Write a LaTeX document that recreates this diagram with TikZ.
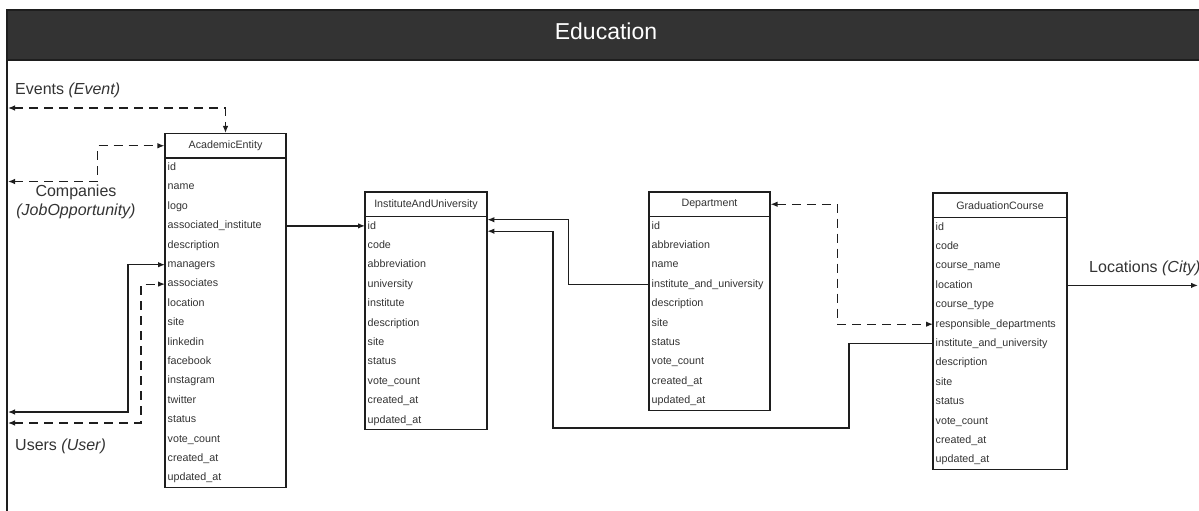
\documentclass[tikz,border=0pt]{standalone}
\usepackage{fontspec}
\setmainfont{Liberation Sans}
\usetikzlibrary{arrows.meta,calc}
\definecolor{ink}{HTML}{333333}
\definecolor{headfill}{HTML}{333333}
\definecolor{edge}{HTML}{1E1E1E}

\tikzset{
  tip/.tip={Latex[length=7pt,width=5.5pt]},
  tabline/.style={draw=edge, line width=1.1pt},
  tabtitle/.style={draw=edge, line width=1.1pt, fill=white, minimum height=24.5pt,
    inner sep=0pt, text=ink, font=\fontsize{10.7}{12}\selectfont},
  field/.style={anchor=west, inner xsep=2.5pt, inner ysep=0pt, minimum height=19.4pt,
    text height=8pt, text depth=2.4pt,
    align=left, text=ink, font=\fontsize{10.7}{12}\selectfont},
  fk/.style={draw=edge, line width=1.2pt},
  fkd/.style={fk, dash pattern=on 9pt off 6pt},
  both/.style={tip-tip},
  ref/.style={-tip},
  sidelabel/.style={inner sep=0pt, text=ink, font=\fontsize{16}{19}\selectfont},
}

% \erdtable{prefix}{left x}{top y}{width}{title}{number of fields}{fields}
\newcommand\erdtable[7]{%
  \pgfmathsetmacro\erdtw{#4-5}%
  \node[tabtitle, minimum width=#4pt] (#1-title) at (#2+#4/2, #3+12.25) {#5};
  \foreach \f [count=\i from 0] in {#7}
    \node[field, text width=\erdtw pt] (#1-\f) at (#2, #3+24.5+19.4*\i+9.7) {\f};
  \draw[tabline] (#2, #3+24.5) rectangle (#2+#4, #3+24.5+19.4*#6);
}

\begin{document}
\catcode`\_=12
\begin{tikzpicture}[x=1pt,y=-1pt]
\useasboundingbox (0,0) rectangle (1199,511);

% frame with its header band
\fill[headfill] (7,10) rectangle (1215,60);
\draw[edge, line width=1.2pt] (1215,10) -- (7,10) -- (7,520);
\draw[edge, line width=1.2pt] (7,60) -- (1215,60);
\node[anchor=base, text=white, inner sep=0pt, font=\fontsize{23}{27}\selectfont]
  (heading) at (606,40) {Education};

% tables
\erdtable{ae}{165}{133.5}{121}{AcademicEntity}{17}{id,name,logo,associated_institute,description,managers,associates,location,site,linkedin,facebook,instagram,twitter,status,vote_count,created_at,updated_at}
\erdtable{iau}{365}{192}{122}{InstituteAndUniversity}{11}{id,code,abbreviation,university,institute,description,site,status,vote_count,created_at,updated_at}
\erdtable{dept}{649}{192}{121}{Department}{10}{id,abbreviation,name,institute_and_university,description,site,status,vote_count,created_at,updated_at}
\erdtable{gc}{933}{193}{134}{GraduationCourse}{13}{id,code,course_name,location,course_type,responsible_departments,institute_and_university,description,site,status,vote_count,created_at,updated_at}

% outside references
\node[sidelabel, anchor=base west] (events-label) at (15,94) {Events \textit{(Event)}};
\node[sidelabel, align=center] (companies-label) at (76,202) {Companies\\\textit{(JobOpportunity)}};
\node[sidelabel, anchor=base west] (users-label) at (15,450) {Users \textit{(User)}};
\node[sidelabel, anchor=base west] (locations-label) at (1089,272) {Locations \textit{(City)}};

\coordinate (events-end) at (8,108);
\coordinate (companies-end) at (8,181.5);
\coordinate (users-a) at (8,412);
\coordinate (users-b) at (8,423);
\coordinate (loc-end) at (1198,0);
\coordinate (gc-bend) at (849,428);
\coordinate (iau-bend) at (553,428);

% connectors
\draw[fkd, both] (events-end) -| (ae-title.north);
\draw[fkd, both] (companies-end) -| ($(ae-title.west)+(-67,0)$) -- (ae-title.west);
\draw[fk, both] (users-a) -| ($(ae-managers.west)+(-37,0)$) -- (ae-managers.west);
\draw[fkd, both] (users-b) -| ($(ae-associates.west)+(-24,0)$) -- (ae-associates.west);

\draw[fk, ref] (ae-associated_institute.east) -- (ae-associated_institute.east -| iau-id.west);
\draw[fk, ref] (dept-institute_and_university.west) -| ($(iau-id.east)+(81,-6.5)$) -- ($(iau-id.east)+(0,-6.5)$);
\draw[fk, ref] (gc-institute_and_university.west) -| (gc-bend) -- (iau-bend) |- ($(iau-id.east)+(0,5)$);
\draw[fkd, both] (dept-title.east) -- ++(67,0) |- (gc-responsible_departments.west);
\draw[fk, ref] (gc-location.east) -- (gc-location.east -| loc-end);
\end{tikzpicture}
\end{document}
